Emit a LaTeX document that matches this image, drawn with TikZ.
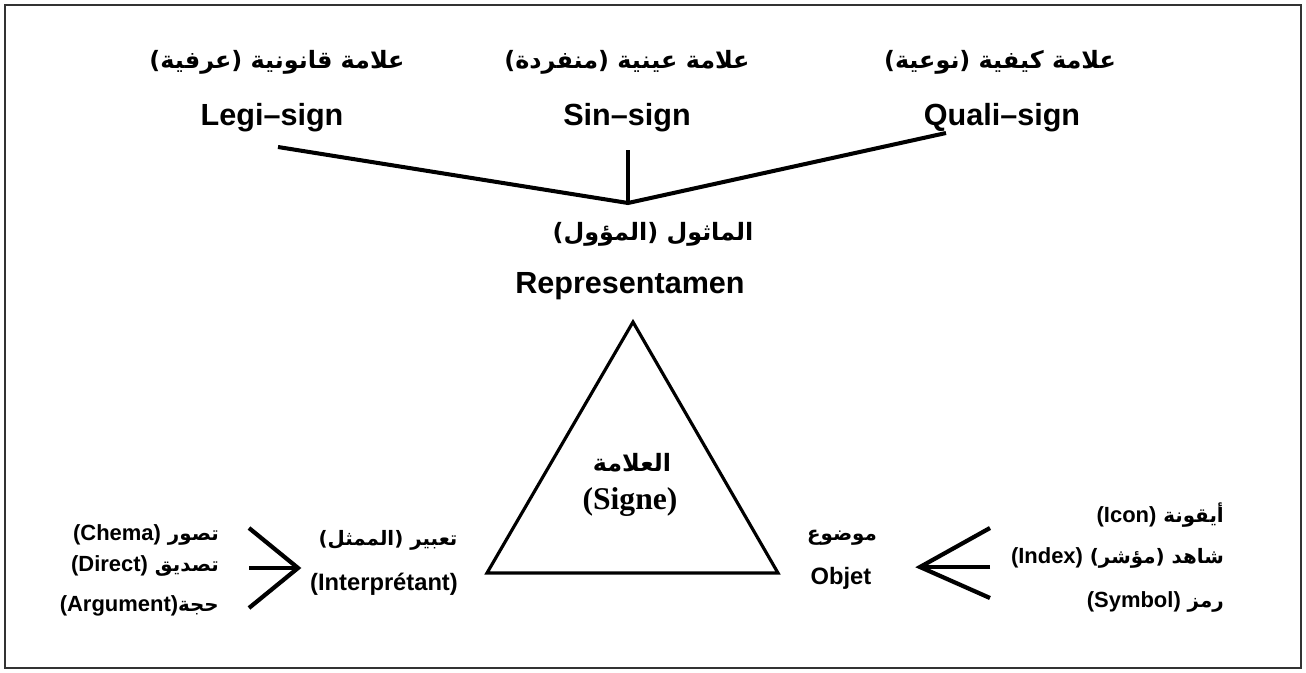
\documentclass[tikz,border=0pt]{standalone}
\usepackage{fontspec}
\setmainfont{Liberation Sans}
\newfontfamily\latfont{Liberation Sans}
\newfontfamily\arabicfont[Script=Arabic]{DejaVu Sans}
\newfontfamily\timesfont{Liberation Serif}
\TeXXeTstate=1
\newcommand{\lattxt}[1]{\beginL{\latfont\fontsize{12.5}{15}\selectfont #1}\endL}

\begin{document}
\begin{tikzpicture}[x=0.02cm,y=-0.02cm,
  big/.style={font=\fontsize{17.4}{20}\selectfont\bfseries},
  artop/.style={font=\arabicfont\fontsize{13.6}{17}\selectfont\bfseries},
  small/.style={font=\fontsize{13.5}{16}\selectfont\bfseries},
  arsmall/.style={font=\arabicfont\fontsize{11.3}{14}\selectfont\bfseries},
  thickline/.style={line width=2.3pt},
  fanline/.style={line width=2.4pt}]
\useasboundingbox (0,0) rectangle (1306,673);
\draw [line width=0.9pt, black!80] (5,5) rectangle (1301,668);

% top row
\node [artop] (legiar) at (277,62) {\beginR علامة قانونية (عرفية)\endR};
\node [big] (legi) at (272,118) {Legi--sign};
\node [artop] (sinar) at (627,62) {\beginR علامة عينية (منفردة)\endR};
\node [big] (sin) at (627,118) {Sin--sign};
\node [artop] (qualiar) at (1000,62) {\beginR علامة كيفية (نوعية)\endR};
\node [big] (quali) at (1002,118) {Quali--sign};

\coordinate (v) at (628,203);
\coordinate (legiend) at (278,147);
\coordinate (sinend) at (628,150);
\coordinate (qualiend) at (946,133);
\draw [thickline] (legiend) -- (v) -- (qualiend);
\draw [thickline] (sinend) -- (v);

% representamen
\node [artop] (repar) at (653,234) {\beginR الماثول (المؤول)\endR};
\node [big] (rep) at (630,286) {Representamen};

% triangle
\coordinate (apex) at (633,322);
\coordinate (bl) at (487,573);
\coordinate (br) at (778,573);
\draw [line width=1.8pt] (apex) -- (bl) -- (br) -- cycle;
\node [artop] (signar) at (632,463) {\beginR العلامة\endR};
\node [font=\timesfont\fontsize{18}{21}\selectfont\bfseries] (sign) at (630,502) {(Signe)};

% interpretant
\node [arsmall] (interar) at (388,540) {\beginR تعبير (الممثل)\endR};
\node [small] (inter) at (384,584) {(Interprétant)};
\coordinate (lt) at (298,568);
\coordinate (l1) at (249,528);
\coordinate (l2) at (249,568);
\coordinate (l3) at (249,608);
\draw [fanline] (l1) -- (lt) -- (l3);
\draw [fanline] (l2) -- (lt);
\node [arsmall, anchor=east] (chema) at (225,535) {\beginR تصور \lattxt{(Chema)}\endR};
\node [arsmall, anchor=east] (direct) at (225,566) {\beginR تصديق \lattxt{(Direct)}\endR};
\node [arsmall, anchor=east] (argu) at (225,606) {\beginR حجة\lattxt{(Argument)}\endR};

% objet
\node [arsmall] (objar) at (842,538) {\beginR موضوع\endR};
\node [small] (obj) at (841,578) {Objet};
\coordinate (rt) at (920,567);
\coordinate (r1) at (990,528);
\coordinate (r2) at (990,567);
\coordinate (r3) at (990,598);
\draw [fanline] (r1) -- (rt) -- (r3);
\draw [fanline] (r2) -- (rt);
\node [arsmall, anchor=east] (icon) at (1230,515) {\beginR أيقونة \lattxt{(Icon)}\endR};
\node [arsmall, anchor=east] (index) at (1230,558) {\beginR شاهد (مؤشر) \lattxt{(Index)}\endR};
\node [arsmall, anchor=east] (symb) at (1230,602) {\beginR رمز \lattxt{(Symbol)}\endR};
\end{tikzpicture}
\end{document}
